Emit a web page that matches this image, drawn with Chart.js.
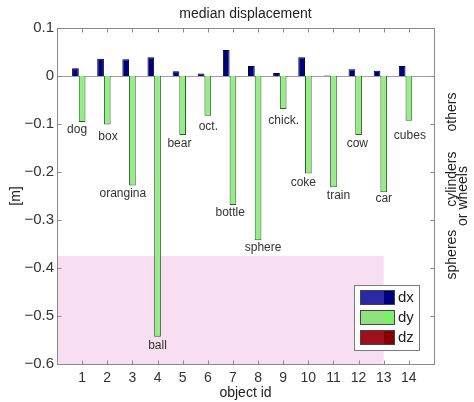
<!DOCTYPE html>
<html>
<head>
<meta charset="utf-8">
<script src="https://cdn.jsdelivr.net/npm/chart.js@4.4.0/dist/chart.umd.min.js"></script>
<style>
  html, body { margin: 0; padding: 0; background: #fff; }
  #wrap { width: 474px; height: 402px; }
</style>
</head>
<body>
<div id="wrap"><canvas id="chart" width="474" height="402"></canvas></div>
<script>
// data
const objectIds = [1, 2, 3, 4, 5, 6, 7, 8, 9, 10, 11, 12, 13, 14];
const objectNames = ['dog', 'box', 'orangina', 'ball', 'bear', 'oct.', 'bottle', 'sphere', 'chick.', 'coke', 'train', 'cow', 'car', 'cubes'];
const dxValues = [0.016, 0.036, 0.035, 0.039, 0.010, 0.005, 0.054, 0.021, 0.006, 0.039, 0.001, 0.014, 0.011, 0.021];
const dyValues = [-0.096, -0.101, -0.228, -0.543, -0.123, -0.083, -0.269, -0.342, -0.069, -0.203, -0.232, -0.123, -0.242, -0.093];
const dzValues = [0, 0, 0, 0, 0, 0, 0, 0, 0, 0, 0, 0, 0, 0];
const seriesNames = ['dx', 'dy', 'dz'];
const yTicks = [0.1, 0, -0.1, -0.2, -0.3, -0.4, -0.5, -0.6];

// name labels, anchored in data units (like matlab text())
const nameX = [0.80, 2.03, 2.62, 4.0, 4.87, 6.02, 6.89, 8.2, 9.02, 9.8, 11.2, 11.95, 13.0, 14.04];
const nameY = [-0.1125, -0.127, -0.246, -0.5625, -0.14, -0.106, -0.285, -0.358, -0.094, -0.223, -0.25, -0.14, -0.256, -0.125];

// category labels on the right side
const classNames = ['others', 'cylinders', 'or wheels', 'spheres'];
const classY = [-0.075, -0.215, -0.25, -0.372];

// shaded "spheres" zone
const zoneX = [0, 13];
const zoneY = [-0.6, -0.375];

const FONT = '"Liberation Sans", Arial, Helvetica, sans-serif';
const colors = {
    dx: '#00007a',
    dy: '#96ec86',
    dz: '#8b0000'
};

const decor = {
    id: 'decor',
    beforeDatasetsDraw(chart) {
        const { ctx, chartArea: a, scales: { x, y } } = chart;
        ctx.save();
        ctx.fillStyle = '#f7def0';
        const x0 = x.getPixelForValue(zoneX[0]), x1 = x.getPixelForValue(zoneX[1]);
        const y0 = y.getPixelForValue(zoneY[1]), y1 = y.getPixelForValue(zoneY[0]);
        ctx.fillRect(x0, y0, x1 - x0, y1 - y0);
        // baseline
        const yb = Math.round(y.getPixelForValue(0)) + 0.5;
        ctx.strokeStyle = '#a0a0a0';
        ctx.lineWidth = 1;
        ctx.beginPath();
        ctx.moveTo(a.left, yb);
        ctx.lineTo(a.right, yb);
        ctx.stroke();
        ctx.restore();
    },
    afterDatasetsDraw(chart) {
        const { ctx, chartArea: a, scales: { x, y } } = chart;
        ctx.save();

        // frame + inward ticks
        ctx.strokeStyle = '#8a8a8a';
        ctx.lineWidth = 1;
        const L = Math.round(a.left) + 0.5, R = Math.round(a.right) + 0.5;
        const T = Math.round(a.top) + 0.5, B = Math.round(a.bottom) + 0.5;
        ctx.strokeRect(L, T, R - L, B - T);
        ctx.beginPath();
        objectIds.forEach(id => {
            const px = Math.round(x.getPixelForValue(id)) + 0.5;
            ctx.moveTo(px, B); ctx.lineTo(px, B - 4);
            ctx.moveTo(px, T); ctx.lineTo(px, T + 4);
        });
        yTicks.forEach(v => {
            const py = Math.round(y.getPixelForValue(v)) + 0.5;
            ctx.moveTo(L, py); ctx.lineTo(L + 4, py);
            ctx.moveTo(R, py); ctx.lineTo(R - 4, py);
        });
        ctx.stroke();

        // object names
        ctx.fillStyle = '#333';
        ctx.font = '12px ' + FONT;
        ctx.textAlign = 'center';
        ctx.textBaseline = 'middle';
        objectNames.forEach((n, i) => {
            ctx.fillText(n, x.getPixelForValue(nameX[i]), y.getPixelForValue(nameY[i]));
        });

        // title and axis titles
        ctx.fillStyle = '#222';
        ctx.font = '14px ' + FONT;
        ctx.fillText('median displacement', (a.left + a.right) / 2, 14);
        ctx.fillText('object id', (a.left + a.right) / 2, 393);
        ctx.save();
        ctx.translate(16, (a.top + a.bottom) / 2);
        ctx.rotate(-Math.PI / 2);
        ctx.fillText('[m]', 0, 0);
        ctx.restore();

        // right side class labels
        const classX = [a.right + 18, a.right + 18, a.right + 29, a.right + 18];
        classNames.forEach((n, i) => {
            ctx.save();
            ctx.translate(classX[i], y.getPixelForValue(classY[i]));
            ctx.rotate(-Math.PI / 2);
            ctx.fillText(n, 0, 0);
            ctx.restore();
        });

        // legend
        const lx = 354, ly = 285, lw = 65, lh = 65;
        ctx.fillStyle = '#fff';
        ctx.fillRect(lx, ly, lw, lh);
        ctx.strokeStyle = '#7a7a7a';
        ctx.strokeRect(lx + 0.5, ly + 0.5, lw, lh);
        const lighter = ['#2a2aa6', '#90e27e', '#a0101c'];
        const darker = ['#00007e', '#7cf06a', '#860000'];
        ctx.textAlign = 'left';
        ctx.font = '15px ' + FONT;
        seriesNames.forEach((s, i) => {
            const sy = ly + 5 + i * 20;
            ctx.fillStyle = lighter[i];
            ctx.fillRect(lx + 6, sy, 24, 15);
            ctx.fillStyle = darker[i];
            ctx.fillRect(lx + 30, sy, 11, 15);
            ctx.strokeStyle = '#444';
            ctx.strokeRect(lx + 6.5, sy + 0.5, 34, 14);
            ctx.fillStyle = '#222';
            ctx.fillText(s, lx + 44, sy + 8);
        });

        ctx.restore();
    }
};

const toPoints = vals => objectIds.map((id, i) => ({ x: id, y: vals[i] }));

new Chart(document.getElementById('chart'), {
    type: 'bar',
    data: {
        datasets: [
            { label: seriesNames[0], data: toPoints(dxValues), backgroundColor: colors.dx, borderColor: '#000030', borderWidth: 1 },
            { label: seriesNames[1], data: toPoints(dyValues), backgroundColor: colors.dy, borderColor: '#2e5a2e', borderWidth: 1 },
            { label: seriesNames[2], data: toPoints(dzValues), backgroundColor: colors.dz, borderWidth: 0 }
        ]
    },
    options: {
        responsive: false,
        animation: false,
        layout: { padding: { top: 28, right: 40, left: 0, bottom: 0 } },
        datasets: { bar: { categoryPercentage: 0.8, barPercentage: 1 } },
        scales: {
            x: {
                type: 'linear',
                offset: false,
                min: 0,
                max: 15,
                afterFit: s => { s.height = 38; },
                afterBuildTicks: s => { s.ticks = objectIds.map(v => ({ value: v })); },
                grid: { display: false, drawTicks: false, tickLength: 0 },
                border: { display: false },
                ticks: {
                    padding: 6,
                    color: '#333',
                    font: { family: FONT, size: 14 },
                    callback: v => String(v)
                }
            },
            y: {
                min: -0.6,
                max: 0.1,
                afterFit: s => { s.width = 57; },
                afterBuildTicks: s => { s.ticks = yTicks.map(v => ({ value: v })); },
                grid: { display: false, drawTicks: false, tickLength: 0 },
                border: { display: false },
                ticks: {
                    padding: 3,
                    color: '#333',
                    font: { family: FONT, size: 15 },
                    callback: v => (Math.abs(v) < 1e-9 ? '0' : v.toFixed(1).replace('-', '\u2212'))
                }
            }
        },
        plugins: {
            legend: { display: false },
            tooltip: { enabled: false }
        }
    },
    plugins: [decor]
});
</script>
</body>
</html>
